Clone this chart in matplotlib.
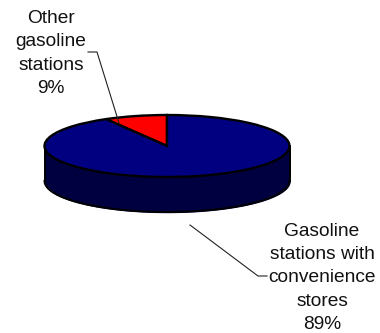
import numpy as np
import matplotlib
matplotlib.use('Agg')
import matplotlib.pyplot as plt

# label text as printed, slice shares as drawn in the picture (red slice spans about 30 deg)
labels = ['Other\ngasoline\nstations\n9%', 'Gasoline\nstations with\nconvenience\nstores\n89%']
shares = [8.3, 91.7]
colors = ['#ff0000', '#000080']
side_color = '#000040'

cx, cy, rx, ry, depth = 167, 146, 122.5, 31, 35

fig = plt.figure(figsize=(3.8, 3.33), dpi=100)
plt.rcParams['font.family'] = ['Liberation Sans', 'DejaVu Sans']

ax = fig.add_axes([0, 0, 1, 1])
ax.pie(shares, colors=colors, startangle=90, radius=1,
       wedgeprops={'edgecolor': 'black', 'linewidth': 1.7, 'zorder': 3})
ax.set_aspect('auto')
ax.set_xlim(-cx / rx, (380 - cx) / rx)
ax.set_ylim((cy - 333) / ry, cy / ry)

# side wall of the disc
t = np.linspace(np.pi, 2 * np.pi, 200)
d = depth / ry
ax.fill_between(np.cos(t), np.sin(t), np.sin(t) - d, color=side_color, zorder=1)
ax.plot(np.cos(t), np.sin(t) - d, color='black', lw=1.4, zorder=2)
ax.plot([-1, -1], [0, -d], color='black', lw=1.4, zorder=2)
ax.plot([1, 1], [0, -d], color='black', lw=1.4, zorder=2)

# labels and leader lines in pixel coordinates
top = fig.add_axes([0, 0, 1, 1])
top.set_xlim(0, 380)
top.set_ylim(333, 0)
top.axis('off')
top.patch.set_alpha(0)

top.plot([88, 97, 119], [52, 52, 123], color='#222222', lw=0.8)
top.plot([190, 258, 267], [225, 276, 276], color='#222222', lw=0.8)

top.text(51, 53.5, labels[0], ha='center', va='center', fontsize=13.8, linespacing=1.48, color='#111111')
top.text(322, 278, labels[1], ha='center', va='center', fontsize=13.8, linespacing=1.48, color='#111111')

plt.savefig('out.png', dpi=100)
